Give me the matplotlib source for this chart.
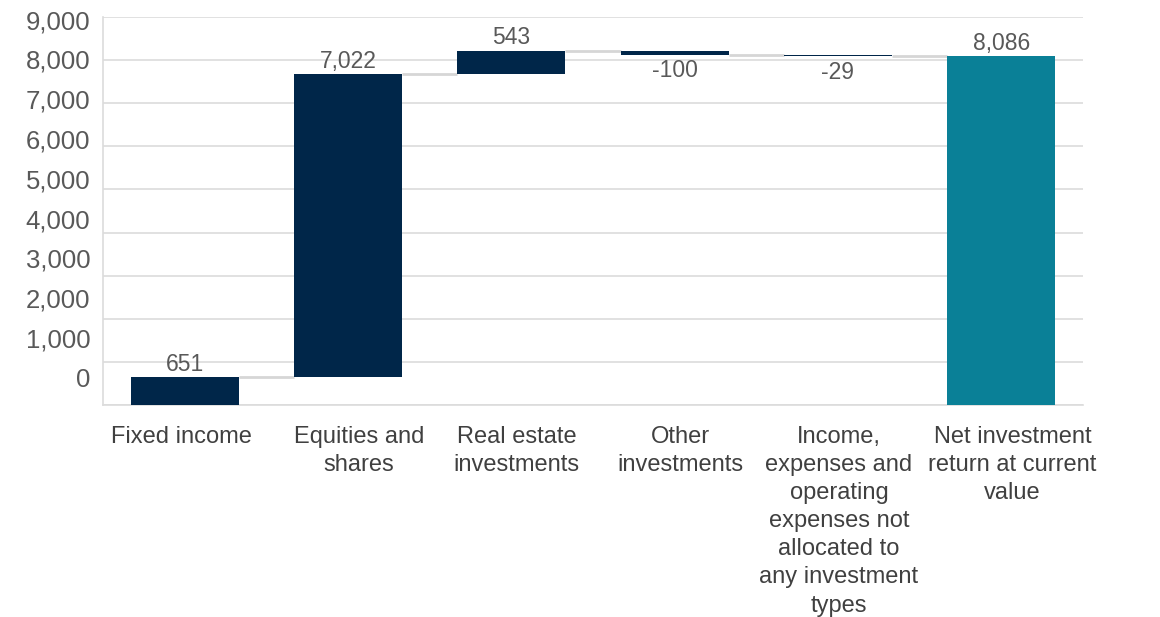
import numpy as np
import matplotlib
matplotlib.use("Agg")
import matplotlib.pyplot as plt
import matplotlib.transforms as mtransforms

# ── Data ──────────────────────────────────────────────────────────────
categories = [
    "Fixed income",
    "Equities and\nshares",
    "Real estate\ninvestments",
    "Other\ninvestments",
    "Income,\nexpenses and\noperating\nexpenses not\nallocated to\nany investment\ntypes",
    "Net investment\nreturn at current\nvalue",
]
changes = [651, 7022, 543, -100, -29]
total = 8086
value_labels = ["651", "7,022", "543", "-100", "-29", "8,086"]
ytick_vals = [0, 1000, 2000, 3000, 4000, 5000, 6000, 7000, 8000, 9000]

# ── Style ─────────────────────────────────────────────────────────────
C_NAVY = "#002649"
C_TEAL = "#0a8097"
C_TEXT = "#595959"
C_GRID = "#dcdcdc"
C_CONN = "#d6d6d6"
plt.rcParams["font.family"] = ["Liberation Sans", "DejaVu Sans"]

fig = plt.figure(figsize=(11.6, 6.17), dpi=100)
ax = fig.add_axes([103 / 1160, 1 - 405 / 617, 980 / 1160, 388 / 617])

# waterfall geometry
ends = np.cumsum(changes)
starts = ends - np.array(changes)
bottoms = list(np.minimum(starts, ends)) + [0]
heights = list(np.abs(changes)) + [total]
colors = [C_NAVY] * len(changes) + [C_TEAL]
x = np.arange(len(categories))
w = 0.66

ax.bar(x, heights, bottom=bottoms, width=w, color=colors, zorder=3)

# connectors between bars
levels = list(ends)
for i, lvl in enumerate(levels):
    ax.plot([x[i] + w / 2, x[i + 1] - w / 2], [lvl, lvl],
            color=C_CONN, lw=2, zorder=2, solid_capstyle="butt")

# value labels
for i, lbl in enumerate(value_labels):
    if i < len(changes) and changes[i] < 0:
        ax.annotate(lbl, (x[i], bottoms[i]), xytext=(0, -3),
                    textcoords="offset points", ha="center", va="top",
                    fontsize=16.5, color=C_TEXT)
    else:
        ax.annotate(lbl, (x[i], bottoms[i] + heights[i]), xytext=(0, 1),
                    textcoords="offset points", ha="center", va="bottom",
                    fontsize=16.5, color=C_TEXT)

# axes
ax.set_xlim(-0.5, len(categories) - 0.5)
ax.set_ylim(0, 9000)
ax.set_yticks(ytick_vals)
ax.set_yticklabels([])
ax.tick_params(axis="y", length=0)
ax.grid(axis="y", color=C_GRID, lw=1.2, zorder=0)
ax.set_xticks(x)
ax.set_xticklabels(categories, fontsize=17, color="#404040", linespacing=1.36, va="top")
ax.tick_params(axis="x", length=0, pad=15)

# small horizontal nudges of the category labels, as in the source
nudges_px = [-3, 11, 5, 6, 1, 11]
for lab, dx in zip(ax.get_xticklabels(), nudges_px):
    lab.set_transform(lab.get_transform() +
                      mtransforms.ScaledTranslation(dx / 100, 0, fig.dpi_scale_trans))

for s in ["top", "right"]:
    ax.spines[s].set_visible(False)
for s in ["left", "bottom"]:
    ax.spines[s].set_color(C_GRID)
    ax.spines[s].set_linewidth(1.2)

# y labels (drawn slightly offset, as in the source image)
trans = mtransforms.blended_transform_factory(ax.transAxes, ax.transAxes)
label_frac = np.linspace(0.064, 0.987, len(ytick_vals))
for v, f in zip(ytick_vals, label_frac):
    ax.text(-0.013, f, f"{v:,}", transform=trans, ha="right", va="center",
            fontsize=18.5, color=C_TEXT)

fig.savefig("out.png", dpi=100, facecolor="white")
